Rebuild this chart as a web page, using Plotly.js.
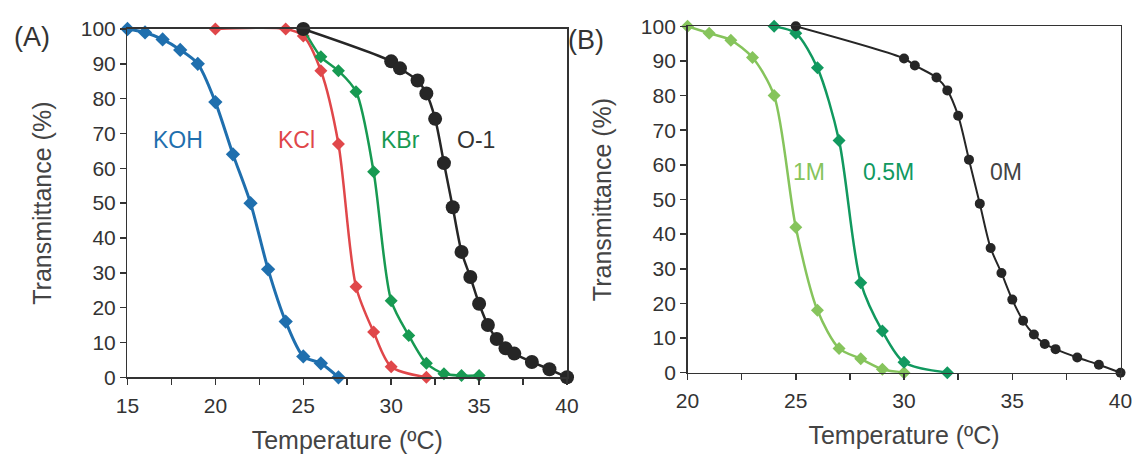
<!DOCTYPE html>
<html>
<head>
<meta charset="utf-8">
<script src="https://cdn.plot.ly/plotly-3.0.1.min.js"></script>
<style>html,body{margin:0;padding:0;background:#fff}#chart{width:1137px;height:455px}</style>
</head>
<body>
<div id="chart"></div>
<script>
// Panel A data
const kohT = [15,16,17,18,19,20,21,22,23,24,25,26,27];
const kohV = [100,99,97,94,90,79,64,50,31,16,6,4,0];
const kclT = [20,24,25,26,27,28,29,30,32];
const kclV = [100,100,98,88,67,26,13,3,0];
const kbrT = [25,26,27,28,29,30,31,32,33,34,35];
const kbrV = [100,92,88,82,59,22,12,4,1,0.5,0.5];
const o1T = [25,30,30.5,31.5,32,32.5,33,33.5,34,34.5,35,35.5,36,36.5,37,38,39,40];
const o1V = [100,90.7,88.7,85.2,81.5,74.2,61.5,48.8,36,28.8,21.1,15,11,8.3,6.8,4.4,2.3,0];
// Panel B data
const m1T = [20,21,22,23,24,25,26,27,28,29,30];
const m1V = [100,98,96,91,80,42,18,7,4,1,0];
const m05T = [24,25,26,27,28,29,30,32];
const m05V = [100,98,88,67,26,12,3,0];
const m0T = o1T;
const m0V = o1V;
// tick labels
const xTicksA = [15,17.5,20,22.5,25,27.5,30,32.5,35,37.5,40];
const xTicksB = [20,22.5,25,27.5,30,32.5,35,37.5,40];
const yTicks = [0,10,20,30,40,50,60,70,80,90,100];

const cBlue = '#1f6fae', cRed = '#e0474a', cGreen = '#179a52', cBlack = '#262626';
const cLight = '#86c45c', cMid = '#11995f';
const FAM = 'Liberation Sans, Arial, sans-serif';

function tr(x, y, color, sym, size, xa, ya, lw) {
  return {x: x, y: y, xaxis: xa, yaxis: ya, type: 'scatter', mode: 'lines+markers',
    line: {color: color, width: lw, shape: 'spline', smoothing: 0.8},
    marker: {color: color, symbol: sym, size: size},
    cliponaxis: false, showlegend: false, hoverinfo: 'skip'};
}

const data = [
  tr(kohT, kohV, cBlue, 'diamond', 11, 'x', 'y', 3),
  tr(kclT, kclV, cRed, 'diamond', 10, 'x', 'y', 2.5),
  tr(kbrT, kbrV, cGreen, 'diamond', 10, 'x', 'y', 2.5),
  tr(o1T, o1V, cBlack, 'circle', 14, 'x', 'y', 2.5),
  tr(m1T, m1V, cLight, 'diamond', 10, 'x2', 'y2', 2.5),
  tr(m05T, m05V, cMid, 'diamond', 10, 'x2', 'y2', 2.5),
  tr(m0T, m0V, cBlack, 'circle', 10, 'x2', 'y2', 2)
];

const fnt = {family: FAM, size: 21, color: '#333'};
const titleFont = {family: FAM, size: 25, color: '#444'};

function xax(domain, ticks, range, anchor) {
  return {domain: domain, range: range, anchor: anchor, tickmode: 'array', tickvals: ticks,
    ticktext: ticks.map(v => (v % 5 === 0 ? String(v) : '')), ticks: 'outside', ticklen: 6,
    tickwidth: 1.5, tickcolor: '#333', showline: true, linecolor: '#333', linewidth: 1.5,
    mirror: true, showgrid: false, zeroline: false, tickfont: fnt, automargin: false,
    ticklabelstandoff: 3,
    title: {text: 'Temperature (ºC)', font: titleFont, standoff: 15}};
}
function yax(domain, anchor) {
  return {domain: domain, range: [0, 100], anchor: anchor, tickmode: 'array', tickvals: yTicks,
    ticks: 'outside', ticklen: 6, tickwidth: 1.5, tickcolor: '#333', showline: true,
    linecolor: '#333', linewidth: 1.5, mirror: true, showgrid: false, zeroline: false,
    tickfont: fnt, automargin: false,
    title: {text: 'Transmittance (%)', font: titleFont, standoff: 22}};
}

function lab(text, x, y, color, xref, yref) {
  return {text: text, x: x, y: y, xref: xref, yref: yref, showarrow: false,
    xanchor: 'center', yanchor: 'middle',
    font: {family: FAM, size: 23, color: color}};
}

const layout = {
  width: 1137, height: 455, margin: {l: 0, r: 0, t: 0, b: 0},
  paper_bgcolor: '#fff', plot_bgcolor: '#fff',
  xaxis: xax([0.1121, 0.4987], xTicksA, [15, 40], 'y'),
  yaxis: yax([0.1708, 0.9363], 'x'),
  xaxis2: xax([0.6047, 0.9855], xTicksB, [20, 40], 'y2'),
  yaxis2: yax([0.1809, 0.9422], 'x2'),
  annotations: [
    lab('KOH', 17.9, 68, cBlue, 'x', 'y'),
    lab('KCl', 24.6, 68, cRed, 'x', 'y'),
    lab('KBr', 30.55, 68, cGreen, 'x', 'y'),
    lab('O-1', 34.8, 68, '#333', 'x', 'y'),
    lab('1M', 25.6, 58, cLight, 'x2', 'y2'),
    lab('0.5M', 29.3, 58, cMid, 'x2', 'y2'),
    lab('0M', 34.7, 58, '#444', 'x2', 'y2'),
    {text: '(A)', x: 32 / 1137, y: 1 - 37 / 455, xref: 'paper', yref: 'paper', showarrow: false,
      xanchor: 'center', yanchor: 'middle', font: {family: FAM, size: 27, color: '#333'}},
    {text: '(B)', x: 586 / 1137, y: 1 - 40 / 455, xref: 'paper', yref: 'paper', showarrow: false,
      xanchor: 'center', yanchor: 'middle', font: {family: FAM, size: 27, color: '#333'}}
  ]
};

Plotly.newPlot('chart', data, layout, {staticPlot: true, displayModeBar: false});
</script>
</body>
</html>
